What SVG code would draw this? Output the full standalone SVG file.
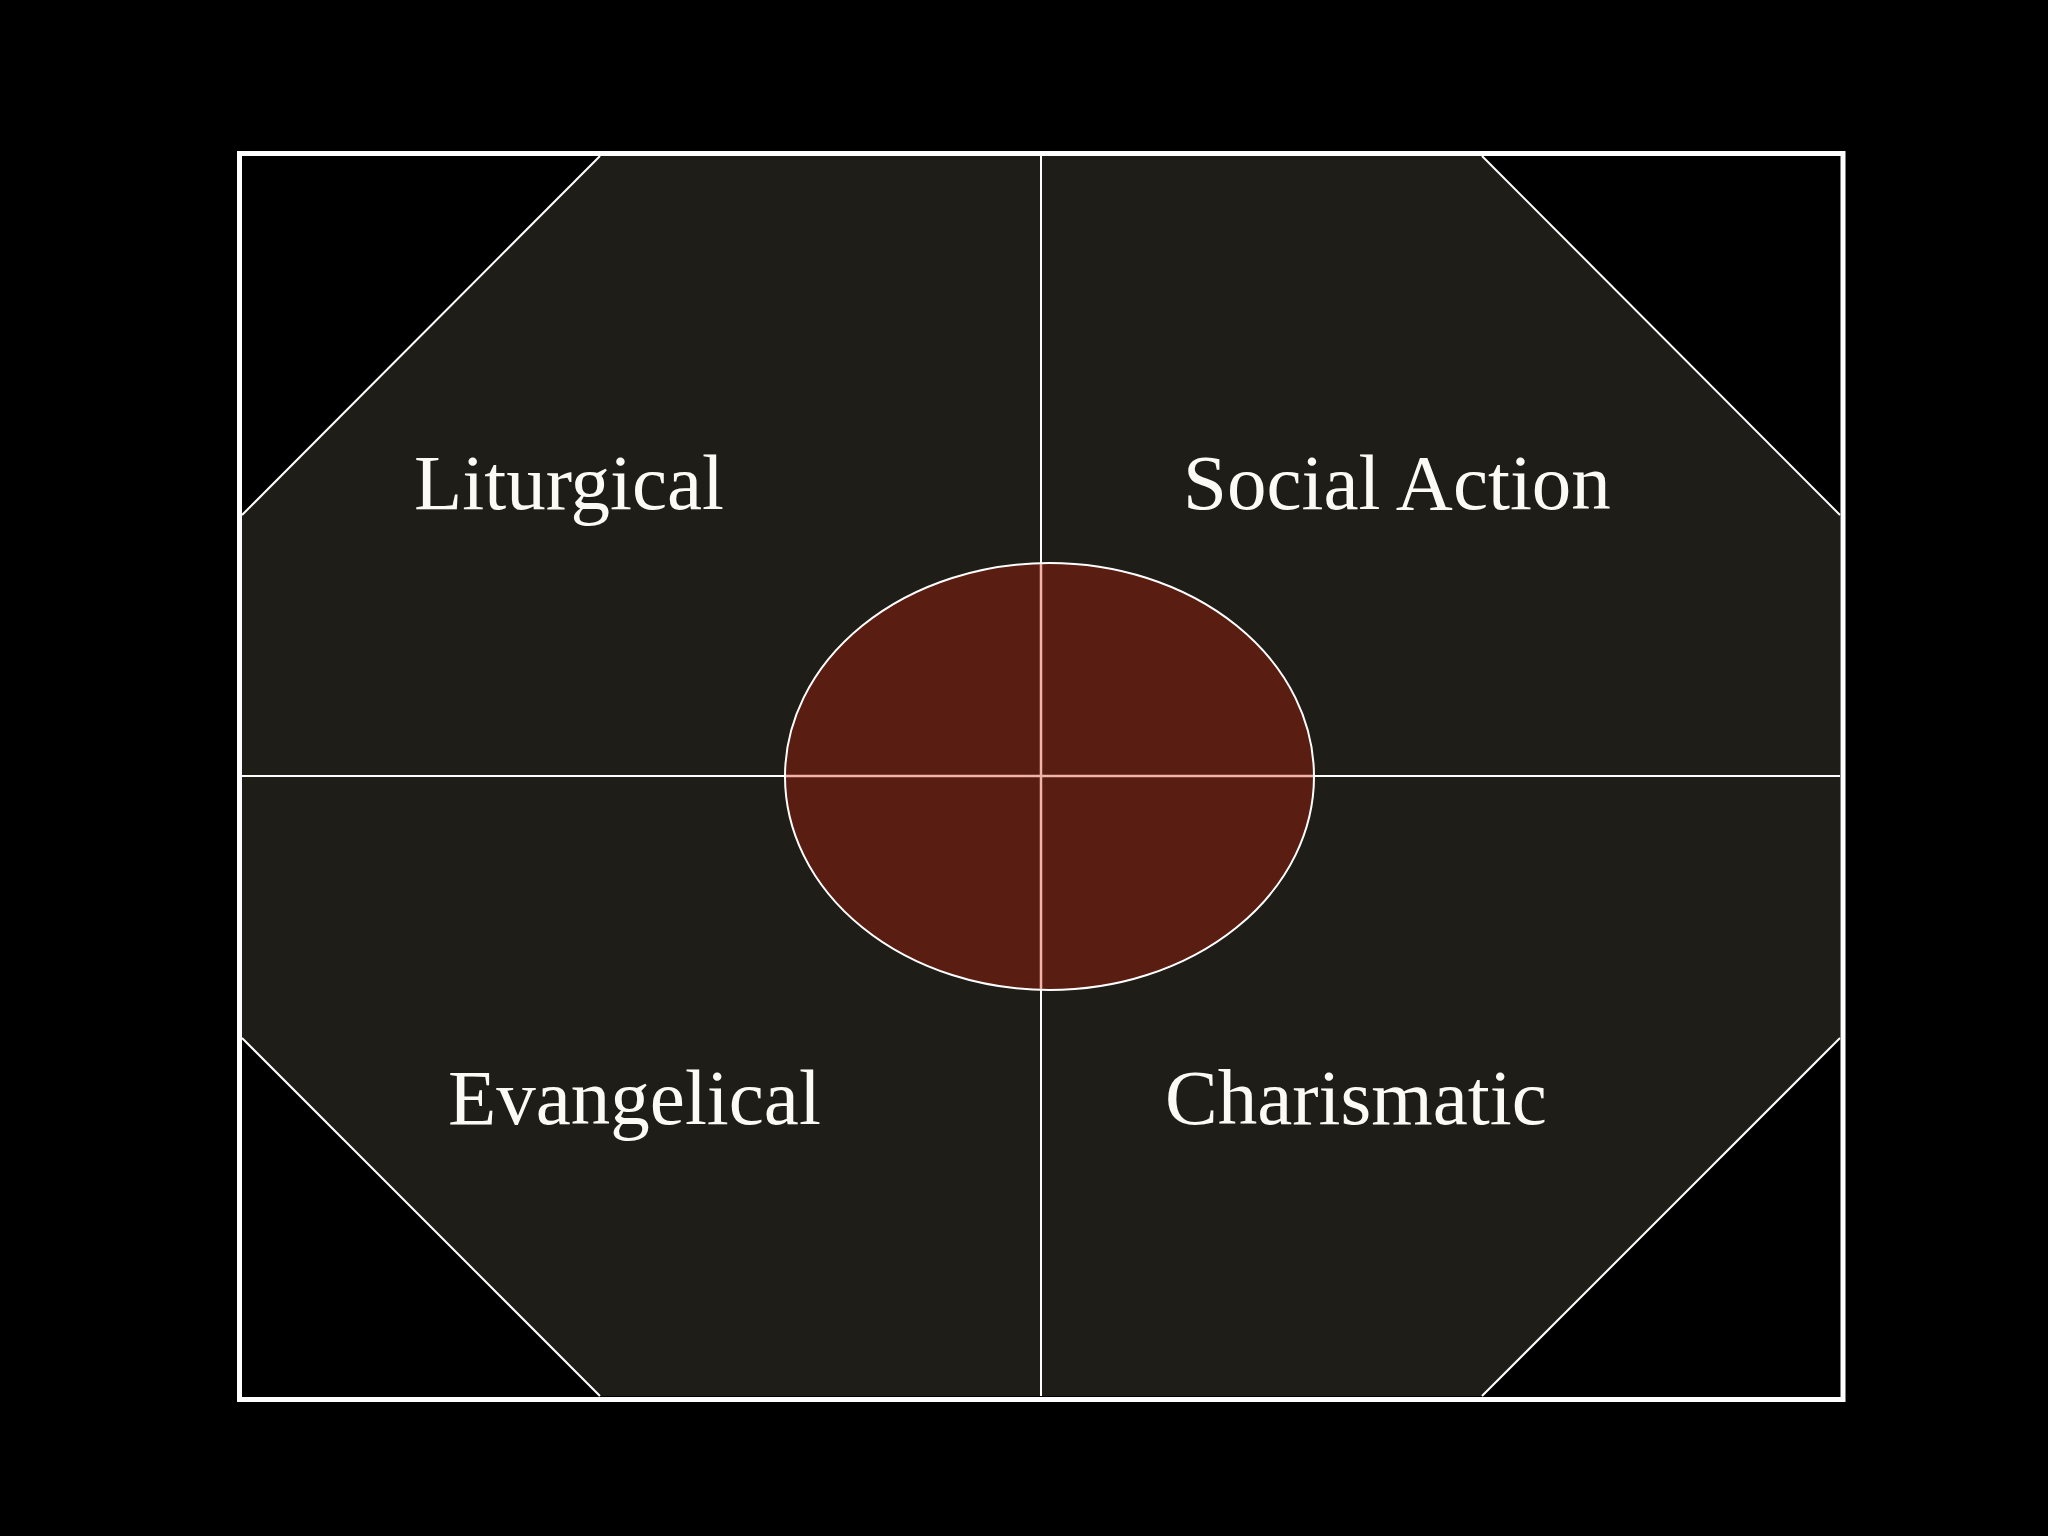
<svg xmlns="http://www.w3.org/2000/svg" width="2048" height="1536" viewBox="0 0 2048 1536">
<style>
.lbl{font-family:"Liberation Serif","Times New Roman",serif;font-size:79px;fill:#fbfaf4}
.ln{stroke:#ffffff;stroke-width:2;fill:none}
.pk{stroke:#f2b4a6;stroke-width:2.5;fill:none}
</style>
<rect x="0" y="0" width="2048" height="1536" fill="#000000"/>
<g id="octagon">
<polygon points="600,156 1482,156 1840,515 1840,1038 1482,1396 600,1396 242,1038 242,515" fill="#1e1d18"/>
</g>
<g id="connectors">
<line class="ln" x1="600" y1="156" x2="242" y2="515"/>
<line class="ln" x1="1482" y1="156" x2="1840" y2="515"/>
<line class="ln" x1="242" y1="1038" x2="600" y2="1396"/>
<line class="ln" x1="1840" y1="1038" x2="1482" y2="1396"/>
<line class="ln" x1="1041" y1="156" x2="1041" y2="1396"/>
<line class="ln" x1="242" y1="776" x2="1840" y2="776"/>
</g>
<g id="center">
<ellipse cx="1049.5" cy="776.5" rx="264.5" ry="213.5" fill="#5a1d12" stroke="#ffffff" stroke-width="2"/>
<line class="pk" x1="786" y1="776" x2="1313" y2="776"/>
<line class="pk" x1="1041" y1="564" x2="1041" y2="989"/>
</g>
<g id="frame">
<rect x="239.5" y="153.5" width="1603.5" height="1246" fill="none" stroke="#ffffff" stroke-width="5"/>
</g>
<g id="liturgical"><text class="lbl" x="414" y="509">Liturgical</text></g>
<g id="social-action"><text class="lbl" x="1183" y="509">Social Action</text></g>
<g id="evangelical"><text class="lbl" x="448" y="1124">Evangelical</text></g>
<g id="charismatic"><text class="lbl" x="1165" y="1124">Charismatic</text></g>
</svg>
